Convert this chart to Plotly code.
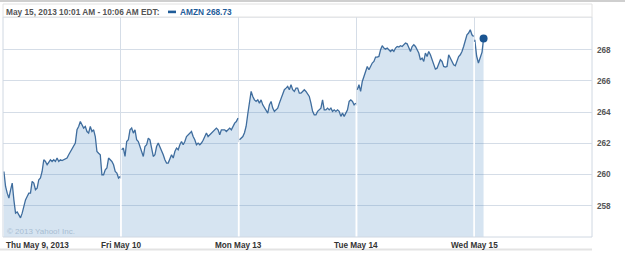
import plotly.graph_objects as go

# ---- data (AMZN intraday prices) ----
day_labels = ["Thu May 9, 2013", "Fri May 10", "Mon May 13", "Tue May 14", "Wed May 15"]
y_ticks = [258, 260, 262, 264, 266, 268]

thu = [260.20, 259.24, 258.81, 258.49, 259.00, 259.45, 258.38, 257.53, 257.60, 257.42,
       257.23, 257.53, 257.96, 258.38, 258.60, 258.81, 258.81, 259.56, 259.45, 259.03,
       259.13, 259.67, 259.78, 260.20, 260.95, 260.84, 260.63, 260.84, 260.95, 260.84,
       260.95, 260.84, 261.06, 260.84, 260.95, 260.90, 260.95, 261.00, 261.06, 261.27,
       261.48, 261.64, 261.80, 262.02, 262.87, 263.08, 263.40, 263.19, 262.98, 263.08,
       262.76, 262.66, 263.08, 262.76, 262.87, 262.44, 261.48, 261.37, 261.27, 259.99,
       259.99, 260.31, 260.42, 261.06, 260.95, 260.84, 260.63, 260.20, 260.10, 259.78,
       259.88]
fri = [261.59, 261.70, 261.16, 262.12, 262.23, 262.87, 262.98, 262.66, 262.87, 262.23,
       262.12, 261.80, 261.45, 261.16, 261.80, 261.91, 262.34, 262.23, 261.70, 261.16,
       261.27, 261.80, 262.02, 261.80, 261.59, 261.27, 260.95, 260.74, 260.74, 261.06,
       261.27, 261.06, 261.48, 261.70, 261.59, 261.91, 262.12, 261.91, 262.12, 262.44,
       262.55, 262.66, 262.76, 262.44, 262.23, 261.91, 262.02, 261.91, 262.02, 262.20,
       262.44, 262.66, 262.44, 262.55, 262.66, 262.76, 262.87, 262.98, 262.87, 262.55,
       262.87, 262.87, 262.87, 262.76, 262.87, 262.98, 262.87, 263.08, 263.30, 263.40,
       263.62]
mon = [262.23, 262.34, 262.44, 262.68, 263.10, 263.90, 264.60, 265.33, 265.01, 264.79,
       264.69, 264.79, 264.58, 264.79, 264.47, 264.26, 264.15, 263.94, 264.47, 264.69,
       264.26, 264.05, 264.15, 264.26, 264.58, 264.90, 265.22, 265.44, 265.54, 265.65,
       265.44, 265.76, 265.44, 265.33, 265.54, 265.54, 265.22, 265.22, 265.33, 265.44,
       265.33, 265.12, 265.01, 264.58, 264.05, 263.83, 263.83, 264.05, 264.15, 264.26,
       264.79, 264.15, 264.15, 264.26, 264.15, 264.26, 264.05, 264.15, 264.05, 264.15,
       264.05, 263.73, 263.94, 263.73, 263.94, 264.15, 264.69, 264.79, 264.69, 264.47,
       264.58]
tue = [265.44, 265.76, 265.33, 265.97, 266.29, 266.61, 266.93, 266.72, 266.93, 267.15,
       267.25, 267.53, 267.53, 267.57, 268.00, 268.26, 268.11, 268.04, 268.11, 268.00,
       267.89, 268.00, 267.89, 268.11, 268.21, 268.17, 268.26, 268.21, 268.32, 268.43,
       268.38, 268.11, 267.89, 268.21, 268.32, 268.21, 268.00, 267.79, 267.36, 267.47,
       267.25, 267.79, 267.57, 267.89, 267.68, 267.36, 266.93, 266.76, 266.82, 267.04,
       267.36, 267.25, 266.93, 266.89, 266.93, 267.68, 267.47, 267.25, 267.04, 266.97,
       267.36, 267.57, 267.68, 267.89, 268.21, 268.64, 268.96, 269.07, 269.28, 268.96,
       268.85]
wed = [268.64, 267.60, 267.15, 267.50, 267.85, 268.73]
wed_minutes = [2, 8, 14, 20, 26, 31]

days = [thu, fri, mon, tue]
SESSION_MIN = 390.0
FULL_START, FULL_STEP = 3.0, 5.5

# ---- style ----
LINE = "#3f6d9e"
FILL = "rgba(70,130,190,0.22)"
GRID = "#d5dde7"
DOT = "#1b5591"
FONT = "Liberation Sans"

fig = go.Figure()

series_x = []
for d, vals in enumerate(days):
    xs = [d + (FULL_START + i * FULL_STEP) / SESSION_MIN for i in range(len(vals))]
    series_x.append(xs)
    fig.add_trace(go.Scatter(x=xs, y=vals, mode="lines", line=dict(color=LINE, width=1.3),
                             fill="tozeroy", fillcolor=FILL, hoverinfo="skip", showlegend=False))
wx = [4 + m / SESSION_MIN for m in wed_minutes]
fig.add_trace(go.Scatter(x=wx, y=wed, mode="lines", line=dict(color=LINE, width=1.3),
                         fill="tozeroy", fillcolor=FILL, hoverinfo="skip", showlegend=False))
fig.add_trace(go.Scatter(x=[wx[-1]], y=[wed[-1]], mode="markers",
                         marker=dict(color=DOT, size=8), hoverinfo="skip", showlegend=False))

YMIN, YMAX = 256.0, 270.1

# white separators inside the fill at day boundaries
all_days = days + [wed]
shapes = []
for d in range(1, 5):
    top = min(all_days[d - 1][-1], all_days[d][0]) - 0.15
    shapes.append(dict(type="line", xref="x", yref="y", x0=d, x1=d, y0=YMIN, y1=top,
                       line=dict(color="white", width=1.5), layer="above"))

W, H = 625, 253
L, R, T, B = 3, 33, 17, 16
PW, PH = W - L - R, H - T - B


def px(xp):
    return (xp - L) / PW


def py(yp):
    return (H - B - yp) / PH


# frame of plot
shapes.append(dict(type="rect", xref="paper", yref="paper", x0=0, x1=1, y0=0, y1=1,
                   line=dict(color="#d0d8e2", width=1), layer="above"))
# header
shapes.append(dict(type="line", xref="paper", yref="paper", x0=px(0), x1=px(W), y0=py(1), y1=py(1),
                   line=dict(color="#cfcfcf", width=2)))
shapes.append(dict(type="rect", xref="paper", yref="paper", x0=px(3), x1=px(592), y0=py(17), y1=py(4),
                   line=dict(color="#e2e2e2", width=1), fillcolor="white"))
shapes.append(dict(type="rect", xref="paper", yref="paper", x0=px(168), x1=px(176), y0=py(13.2), y1=py(10.6),
                   line=dict(width=0), fillcolor="#1f5c99"))
# bottom rule
shapes.append(dict(type="line", xref="paper", yref="paper", x0=px(0), x1=px(592), y0=py(249.5), y1=py(249.5),
                   line=dict(color="#e3e3e3", width=2)))

annotations = [
    dict(text="May 15, 2013 10:01 AM - 10:06 AM EDT:", xref="paper", yref="paper",
         x=px(4), y=py(11.5), xanchor="left", yanchor="middle", showarrow=False,
         font=dict(family=FONT, size=8.3, color="#555555", weight="bold")),
    dict(text="AMZN " + f"{wed[-1]:.2f}", xref="paper", yref="paper",
         x=px(178), y=py(11.5), xanchor="left", yanchor="middle", showarrow=False,
         font=dict(family=FONT, size=8.3, color="#1f5c99", weight="bold")),
    dict(text="© 2013 Yahoo! Inc.", xref="paper", yref="paper",
         x=px(5), y=py(231), xanchor="left", yanchor="middle", showarrow=False,
         font=dict(family=FONT, size=8, color="#a8bdd2")),
]
for d, lab in enumerate(day_labels):
    annotations.append(dict(text=lab, xref="x", yref="paper", x=d if d > 0 else 0,
                            xshift=1 if d == 0 else 0,
                            y=py(245), xanchor="left" if d == 0 else "center", yanchor="middle",
                            showarrow=False,
                            font=dict(family=FONT, size=8.2, color="#333333", weight="bold")))

fig.update_layout(
    width=W, height=H, margin=dict(l=L, r=R, t=T, b=B, pad=0),
    paper_bgcolor="white", plot_bgcolor="white",
    xaxis=dict(range=[0, 5], tickvals=[1, 2, 3, 4], showticklabels=False, showgrid=True,
               gridcolor=GRID, gridwidth=1, zeroline=False, showline=False, ticks=""),
    yaxis=dict(range=[YMIN, YMAX], side="right", tickvals=y_ticks, ticktext=[str(v) for v in y_ticks],
               showgrid=True, gridcolor=GRID, gridwidth=1, zeroline=False, showline=False,
               ticks="", ticklabelstandoff=4,
               tickfont=dict(family=FONT, size=8.2, color="#555555", weight="bold")),
    shapes=shapes, annotations=annotations, showlegend=False,
)

fig.write_html("out.html")
